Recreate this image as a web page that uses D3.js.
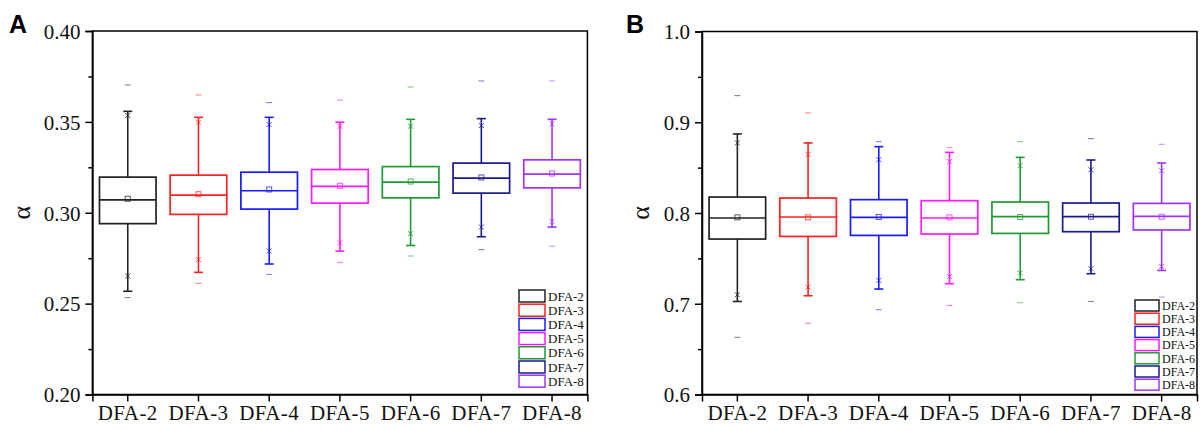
<!DOCTYPE html>
<html><head><meta charset="utf-8">
<script src="https://cdn.jsdelivr.net/npm/d3@7"></script>
<style>body{margin:0;background:#fff}svg{display:block}
svg text{font-family:"Liberation Serif"}</style></head>
<body><svg id="c" width="1200" height="430" style='font-family:"Liberation Serif"'></svg>
<script>
const categories = ["DFA-2","DFA-3","DFA-4","DFA-5","DFA-6","DFA-7","DFA-8"];
const seriesColors = ["#222222","#ff2020","#1a1aff","#ff1aff","#1f9a35","#1a1a8c","#a033ff"];

// Panel A
const maxA     = [0.3703,0.3648,0.3606,0.3619,0.3692,0.3725,0.3725];
const whiHiA   = [0.3558,0.3525,0.3525,0.3498,0.3514,0.3518,0.3514];
const p99A     = [0.3535,0.3498,0.3485,0.3476,0.3476,0.3480,0.3489];
const q3A      = [0.3196,0.3207,0.3223,0.3238,0.3254,0.3273,0.3291];
const medianA  = [0.3071,0.3097,0.3121,0.3145,0.3168,0.3190,0.3212];
const meanA    = [0.3077,0.3102,0.3128,0.3148,0.3172,0.3194,0.3216];
const q1A      = [0.2940,0.2991,0.3020,0.3053,0.3082,0.3108,0.3137];
const p1A      = [0.2652,0.2742,0.2789,0.2835,0.2885,0.2921,0.2952];
const whiLoA   = [0.2568,0.2672,0.2718,0.2789,0.2820,0.2868,0.2921];
const minA     = [0.2533,0.2612,0.2661,0.2727,0.2762,0.2797,0.2816];
const ticksA   = ["0.20","0.25","0.30","0.35","0.40"];

// Panel B
const maxB     = [0.9293,0.9103,0.8786,0.8723,0.8786,0.8819,0.8757];
const whiHiB   = [0.8871,0.8772,0.8731,0.8668,0.8613,0.8584,0.8551];
const p99B     = [0.8772,0.8646,0.8588,0.8569,0.8522,0.8477,0.8466];
const q3B      = [0.8176,0.8165,0.8147,0.8136,0.8121,0.8110,0.8106];
const medianB  = [0.7945,0.7956,0.7952,0.7945,0.7959,0.7959,0.7963];
const meanB    = [0.7952,0.7952,0.7956,0.7952,0.7956,0.7959,0.7959];
const q1B      = [0.7713,0.7742,0.7753,0.7768,0.7775,0.7794,0.7813];
const p1B      = [0.7099,0.7184,0.7257,0.7301,0.7338,0.7386,0.7411];
const whiLoB   = [0.7025,0.7088,0.7162,0.7221,0.7265,0.7331,0.7367];
const minB     = [0.6630,0.6785,0.6934,0.6981,0.7011,0.7025,0.7074];
const ticksB   = ["0.6","0.7","0.8","0.9","1.0"];

const svg = d3.select("#c");
const SERIF = '"Liberation Serif"';

function panel(o){
  const g = svg.append("g");
  const x = d3.scaleBand().domain(categories).range([o.left, o.right]).padding(0);
  const dom = [+o.ticks[0], +o.ticks[o.ticks.length-1]];
  const y = d3.scaleLinear().domain(dom).range([o.bottom, o.top]);
  const bw = x.bandwidth()*0.8;
  const cx = c => x(c) + x.bandwidth()/2;

  // minor ticks
  const minor = [];
  for (let i=0;i<o.ticks.length-1;i++) minor.push((+o.ticks[i] + +o.ticks[i+1])/2);
  g.append("g").attr("transform",`translate(${o.left},0)`)
    .call(d3.axisLeft(y).tickValues(minor).tickSize(4).tickFormat(""))
    .call(a=>a.select(".domain").remove())
    .selectAll("line").attr("stroke","#000").attr("stroke-width",1.5);

  // frame
  g.append("rect").attr("x",o.left).attr("y",o.top).attr("width",o.right-o.left).attr("height",o.bottom-o.top)
    .attr("fill","none").attr("stroke","#000").attr("stroke-width",1.5);

  // y axis
  const ya = g.append("g").attr("transform",`translate(${o.left},0)`)
    .call(d3.axisLeft(y).tickValues(o.ticks.map(Number)).tickSize(7).tickPadding(5)
      .tickFormat((d,i)=>o.ticks[i]));
  ya.attr("font-family",null).attr("font-size",null);
  ya.select(".domain").attr("stroke","#000").attr("stroke-width",1.5);
  ya.selectAll("line").attr("stroke","#000").attr("stroke-width",1.5);
  ya.selectAll("text").style("font-family",SERIF).style("font-size","21px").attr("fill","#111").attr("dy","0.35em");

  // x axis
  const xa = g.append("g").attr("transform",`translate(0,${o.bottom})`)
    .call(d3.axisBottom(x).tickSize(7).tickPadding(4));
  xa.attr("font-family",null).attr("font-size",null);
  xa.select(".domain").attr("stroke","#000").attr("stroke-width",1.5);
  xa.selectAll("line").attr("stroke","#000").attr("stroke-width",1.5);
  xa.selectAll("text").style("font-family",SERIF).style("font-size","21px").attr("fill","#111").style("letter-spacing","0.4px");

  // axis title
  g.append("text").attr("transform",`translate(${o.titleX},${(o.top+o.bottom)/2}) rotate(-90)`)
    .attr("text-anchor","middle").style("font-family",SERIF).style("font-size","26px").attr("fill","#111").text("α");

  // panel letter
  g.append("text").attr("x",o.letterX).attr("y",33).style("font-family",'"Liberation Sans"')
    .style("font-weight","bold").style("font-size","25px").attr("fill","#000").text(o.letter);

  const d = o.data;
  categories.forEach((c,i)=>{
    const col = seriesColors[i];
    const gc = g.append("g").attr("stroke",col).attr("fill","none");
    const xc = cx(c);
    gc.append("line").attr("x1",xc).attr("x2",xc).attr("y1",y(d.q3[i])).attr("y2",y(d.whiHi[i])).attr("stroke-width",1.6);
    gc.append("line").attr("x1",xc).attr("x2",xc).attr("y1",y(d.q1[i])).attr("y2",y(d.whiLo[i])).attr("stroke-width",1.6);
    [d.whiHi[i], d.whiLo[i]].forEach(v=>{
      gc.append("line").attr("x1",xc-4.5).attr("x2",xc+4.5).attr("y1",y(v)).attr("y2",y(v)).attr("stroke-width",1.6);
    });
    gc.append("rect").attr("x",xc-bw/2).attr("y",y(d.q3[i])).attr("width",bw).attr("height",y(d.q1[i])-y(d.q3[i]))
      .attr("stroke-width",1.7).attr("fill","none");
    gc.append("line").attr("x1",xc-bw/2).attr("x2",xc+bw/2).attr("y1",y(d.median[i])).attr("y2",y(d.median[i])).attr("stroke-width",1.7);
    gc.append("rect").attr("x",xc-2.5).attr("y",y(d.mean[i])-2.5).attr("width",5).attr("height",5)
      .attr("stroke-width",1).attr("stroke-opacity",0.75);
    [d.p99[i], d.p1[i]].forEach(v=>{
      const yy = y(v), s = 2.5;
      gc.append("path").attr("d",`M${xc-s},${yy-s}L${xc+s},${yy+s}M${xc-s},${yy+s}L${xc+s},${yy-s}`)
        .attr("stroke-width",1).attr("stroke-opacity",0.8);
    });
    [d.max[i], d.min[i]].forEach(v=>{
      gc.append("line").attr("x1",xc-3).attr("x2",xc+3).attr("y1",y(v)).attr("y2",y(v))
        .attr("stroke-width",1).attr("stroke-opacity",0.6);
    });
  });

  const lg = g.append("g");
  categories.forEach((c,i)=>{
    const yy = o.legTop + i*o.legStep;
    lg.append("rect").attr("x",o.legX).attr("y",yy).attr("width",o.legW).attr("height",o.legH)
      .attr("fill","#fff").attr("stroke",seriesColors[i]).attr("stroke-width",1.5);
    lg.append("text").attr("x",o.legX+o.legW+3).attr("y",yy+o.legH/2).attr("dy","0.35em")
      .style("font-family",SERIF).style("font-size",o.legFont+"px").attr("fill","#111").text(c);
  });
}

panel({left:92.4,right:587.4,top:31,bottom:394.5,ticks:ticksA,titleX:30,letter:"A",letterX:9,
  data:{max:maxA,whiHi:whiHiA,p99:p99A,q3:q3A,median:medianA,mean:meanA,q1:q1A,p1:p1A,whiLo:whiLoA,min:minA},
  legX:519,legTop:290,legStep:14.2,legW:26,legH:12,legFont:13});
panel({left:702,right:1197,top:31.5,bottom:394.5,ticks:ticksB,titleX:649,letter:"B",letterX:626,
  data:{max:maxB,whiHi:whiHiB,p99:p99B,q3:q3B,median:medianB,mean:meanB,q1:q1B,p1:p1B,whiLo:whiLoB,min:minB},
  legX:1135,legTop:300,legStep:13.2,legW:24,legH:11,legFont:12});
</script>
</body></html>
